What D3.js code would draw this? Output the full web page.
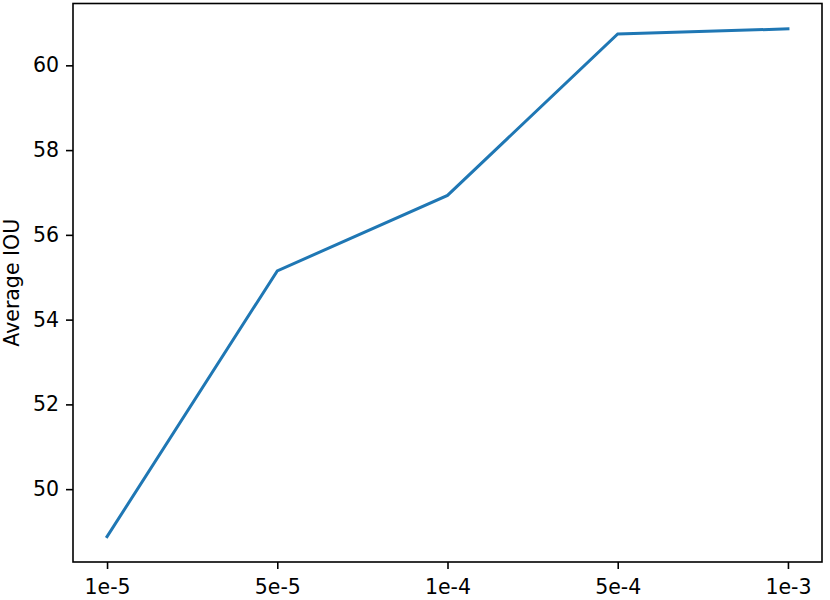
<!DOCTYPE html>
<html>
<head>
<meta charset="utf-8">
<script src="https://cdn.jsdelivr.net/npm/d3@7"></script>
<style>
  body { margin: 0; background: #fff; }
  text { font-family: "DejaVu Sans", sans-serif; }
</style>
</head>
<body>
<script>
// Chart data
var learningRates = ["1e-5", "5e-5", "1e-4", "5e-4", "1e-3"];
var avgIou = [48.88, 55.15, 56.93, 60.74, 60.86];
var yTicks = [50, 52, 54, 56, 58, 60];

// Canvas / plot area
var margin = { top: 3.5, right: 8, bottom: 38, left: 73 },
  width = 830 - margin.left - margin.right,
  height = 600 - margin.top - margin.bottom;

var svg = d3.select("body")
  .append("svg")
  .attr("width", 830)
  .attr("height", 600);

var g = svg.append("g")
  .attr("transform", "translate(" + margin.left + "," + margin.top + ")");

// Scales (matplotlib-like 5% margins)
var xRange = d3.scaleLinear().domain([-0.2, learningRates.length - 1 + 0.2]).range([0, width]);
var yMin = d3.min(avgIou), yMax = d3.max(avgIou), pad = (yMax - yMin) * 0.05;
var yRange = d3.scaleLinear().domain([yMin - pad, yMax + pad]).range([height, 0]);

// Line
var valueline = d3.line()
  .x(function (d, i) { return xRange(i); })
  .y(function (d) { return yRange(d); });

g.append("path")
  .datum(avgIou)
  .attr("fill", "none")
  .attr("stroke", "#1f77b4")
  .attr("stroke-width", 3)
  .attr("stroke-linejoin", "miter")
  .attr("stroke-linecap", "square")
  .attr("d", valueline);

// Axes
var xAxis = d3.axisBottom(xRange)
  .tickValues(d3.range(learningRates.length))
  .tickFormat(function (i) { return learningRates[i]; })
  .tickSize(7).tickPadding(10);

var yAxis = d3.axisLeft(yRange)
  .tickValues(yTicks)
  .tickSize(7).tickPadding(7);

var gx = g.append("g")
  .attr("transform", "translate(0," + height + ")")
  .call(xAxis);
var gy = g.append("g").call(yAxis);

[gx, gy].forEach(function (ax) {
  ax.select(".domain").remove();
  ax.selectAll(".tick line").attr("stroke", "#000").attr("stroke-width", 1.6);
  ax.selectAll(".tick text")
    .attr("fill", "#000")
    .style("font-size", "20.5px")
    .style("font-family", "'DejaVu Sans', sans-serif");
});

// Frame
g.append("rect")
  .attr("width", width)
  .attr("height", height)
  .attr("fill", "none")
  .attr("stroke", "#000")
  .attr("stroke-width", 1.6);

// Y label
svg.append("text")
  .attr("transform", "translate(19," + (margin.top + height / 2) + ") rotate(-90)")
  .attr("text-anchor", "middle")
  .style("font-size", "20.5px")
  .text("Average IOU");
</script>
</body>
</html>
